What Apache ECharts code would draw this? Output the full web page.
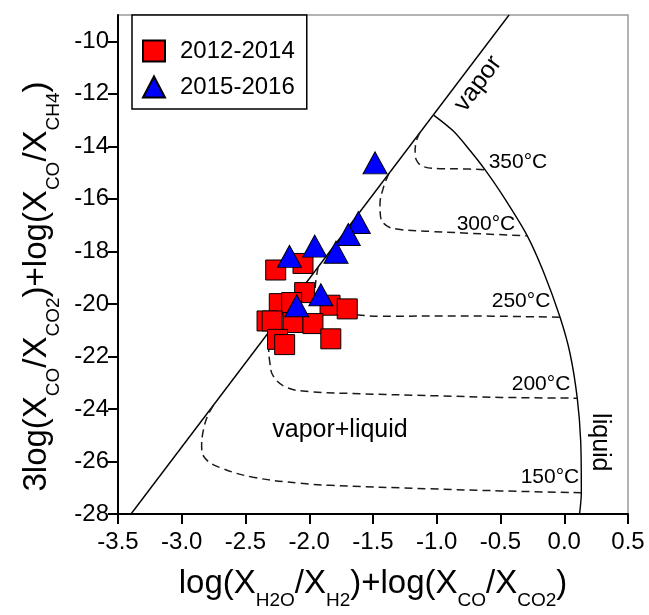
<!DOCTYPE html>
<html>
<head>
<meta charset="utf-8">
<script src="https://cdn.jsdelivr.net/npm/echarts@6/dist/echarts.min.js"></script>
<style>
  html, body { margin: 0; padding: 0; background: #fff; }
  #chart { width: 649px; height: 615px; }
</style>
</head>
<body>
<div id="chart"></div>
<script>
// sample points, [x, y]
const pts2012 = [
  [-2.263, -18.71], [-2.049, -18.46], [-2.036, -19.57], [-2.235, -19.99],
  [-2.138, -19.95], [-1.837, -20.05], [-1.702, -20.19], [-2.331, -20.65],
  [-2.291, -20.65], [-2.127, -20.71], [-1.971, -20.75], [-1.831, -21.33],
  [-2.249, -21.35], [-2.193, -21.55]
];
const pts2015 = [
  [-1.484, -14.63], [-1.615, -16.90], [-1.694, -17.36], [-1.790, -18.03],
  [-1.957, -17.80], [-2.155, -18.19], [-1.909, -19.65], [-2.098, -20.07]
];

// phase boundaries
const vaporLine = [[-3.398, -28], [-0.433, -9]];
const liquidCurve = [
  [-1.022, -12.82], [-0.870, -13.42], [-0.739, -14.16], [-0.622, -14.89],
  [-0.478, -15.91], [-0.290, -17.41], [-0.164, -18.77], [-0.033, -20.51],
  [0.045, -21.88], [0.102, -23.59], [0.129, -25.23], [0.134, -27.19],
  [0.12, -28]
];

// isotherms (dashed)
const iso350 = [
  [-1.133, -13.48], [-1.165, -13.9], [-1.17, -14.29], [-1.15, -14.6],
  [-1.10, -14.78], [-0.975, -14.85], [-0.8, -14.86], [-0.622, -14.89]
];
const iso300 = [
  [-1.376, -15.04], [-1.42, -15.6], [-1.445, -16.2], [-1.44, -16.7],
  [-1.40, -17.0], [-1.315, -17.15], [-1.05, -17.24], [-0.792, -17.30],
  [-0.290, -17.41]
];
const iso250 = [
  [-1.931, -18.6], [-1.95, -19.2], [-1.955, -19.64], [-1.892, -20.12],
  [-1.759, -20.31], [-1.445, -20.47], [-0.818, -20.46], [-0.033, -20.51]
];
const iso200 = [
  [-2.31, -21.03], [-2.318, -21.6], [-2.31, -22.2], [-2.282, -22.75],
  [-2.177, -23.18], [-1.994, -23.34], [-1.6, -23.42], [-1.0, -23.5],
  [-0.5, -23.56], [0.102, -23.59]
];
const iso150 = [
  [-2.753, -23.87], [-2.80, -24.3], [-2.83, -24.8], [-2.844, -25.36],
  [-2.82, -25.86], [-2.70, -26.23], [-2.44, -26.6], [-2.07, -26.83],
  [-1.837, -26.91], [-1.05, -27.04], [-0.5, -27.12], [0.134, -27.19]
];

// text annotations (data coords)
const annoText = ['vapor', '350°C', '300°C', '250°C', '200°C', '150°C', 'liquid', 'vapor+liquid'];
const annoX = [-0.676, -0.363, -0.614, -0.339, -0.182, -0.112, 0.280, -1.759];
const annoY = [-11.62, -14.60, -16.95, -19.90, -23.07, -26.61, -25.27, -24.79];
const annoRot = [53.4, 0, 0, 0, 0, 0, -90, 0];
const annoSize = [25, 21, 21, 21, 21, 21, 25, 25];

const yTicks = [-28, -26, -24, -22, -20, -18, -16, -14, -12, -10];

const font = 'Liberation Sans, Arial, sans-serif';
const chart = echarts.init(document.getElementById('chart'));

const richTitle = {
  m: { fontSize: 33, lineHeight: 33, verticalAlign: 'top', color: '#000', fontFamily: font },
  s: { fontSize: 19, lineHeight: 20, verticalAlign: 'top', padding: [24, 0, 0, 0], color: '#000', fontFamily: font }
};

function dashed(data) {
  return {
    type: 'line',
    data: data,
    smooth: 0.4,
    showSymbol: false,
    silent: true,
    lineStyle: { color: '#1a1a1a', width: 1.5, type: [8, 5] },
    z: 2
  };
}

const option = {
  animation: false,
  textStyle: { fontFamily: font },
  grid: {
    left: 118, right: 21, top: 15, bottom: 91,
    show: true, borderColor: '#9a9a9a', borderWidth: 1.5
  },
  legend: {
    data: [
      { name: '2012-2014', icon: 'rect' },
      { name: '2015-2016', icon: 'triangle' }
    ],
    orient: 'vertical',
    left: 132, top: 15,
    padding: [24, 12, 10, 10],
    itemGap: 12,
    itemWidth: 22, itemHeight: 21,
    borderColor: '#000', borderWidth: 1.5,
    backgroundColor: '#fff',
    textStyle: { fontSize: 24, color: '#000', padding: [0, 0, 0, 10], fontFamily: font }
  },
  xAxis: {
    type: 'value',
    min: -3.5, max: 0.5, interval: 0.5,
    name: '{m|log(X}{s|H2O}{m|/X}{s|H2}{m|)+log(X}{s|CO}{m|/X}{s|CO2}{m|)}',
    nameLocation: 'middle',
    nameGap: 53,
    nameTextStyle: { rich: richTitle },
    axisLine: { onZero: false, lineStyle: { color: '#000', width: 2 } },
    axisTick: { length: 10, lineStyle: { color: '#000', width: 2 } },
    axisLabel: {
      fontSize: 24, color: '#000', margin: 16,
      formatter: v => v.toFixed(1)
    },
    splitLine: { show: false }
  },
  yAxis: {
    type: 'value',
    min: -28, max: -9, interval: 2,
    name: '{m|3log(X}{s|CO}{m|/X}{s|CO2}{m|)+log(X}{s|CO}{m|/X}{s|CH4}{m|)}',
    nameLocation: 'middle',
    nameGap: 62,
    nameTextStyle: { rich: richTitle, padding: [0, 44, 0, 0] },
    axisLine: { onZero: false, lineStyle: { color: '#000', width: 2 } },
    axisTick: { length: 10, customValues: yTicks, lineStyle: { color: '#000', width: 2 } },
    axisLabel: {
      fontSize: 24, color: '#000', margin: 9,
      customValues: yTicks,
      formatter: v => String(v)
    },
    splitLine: { show: false }
  },
  series: [
    {
      type: 'line', data: vaporLine, showSymbol: false, silent: true,
      lineStyle: { color: '#000', width: 1.4 }, z: 2
    },
    {
      type: 'line', data: liquidCurve, smooth: 0.3,
      showSymbol: false, silent: true,
      lineStyle: { color: '#000', width: 1.4 }, z: 2
    },
    dashed(iso350), dashed(iso300), dashed(iso250), dashed(iso200), dashed(iso150),
    {
      type: 'custom',
      silent: true,
      data: annoX.map((x, i) => [x, annoY[i]]),
      renderItem: (params, api) => {
        const i = params.dataIndex;
        const p = api.coord([api.value(0), api.value(1)]);
        return {
          type: 'text',
          x: p[0], y: p[1],
          rotation: annoRot[i] * Math.PI / 180,
          style: {
            text: annoText[i], fontSize: annoSize[i], fill: '#000',
            align: 'center', verticalAlign: 'middle', fontFamily: font
          }
        };
      },
      z: 3
    },
    {
      name: '2012-2014',
      type: 'scatter',
      symbol: 'rect',
      symbolSize: 20,
      data: pts2012,
      itemStyle: { color: '#ff0000', opacity: 1, borderColor: '#000', borderWidth: 1 },
      z: 5
    },
    {
      name: '2015-2016',
      type: 'scatter',
      symbol: 'triangle',
      symbolSize: [24, 22],
      data: pts2015,
      itemStyle: { color: '#0000ff', opacity: 1, borderColor: '#000', borderWidth: 1 },
      z: 6
    }
  ]
};

chart.setOption(option);
window.onresize = () => chart.resize();
</script>
</body>
</html>
